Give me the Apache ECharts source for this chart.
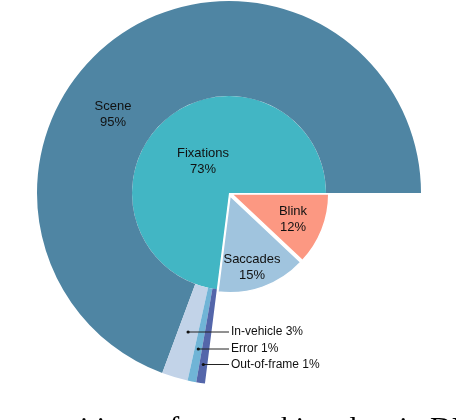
<!DOCTYPE html>
<html>
<head>
<meta charset="utf-8">
<script src="https://cdn.jsdelivr.net/npm/echarts@6/dist/echarts.min.js"></script>
<style>
html,body{margin:0;padding:0;background:#fff;}
#main{width:456px;height:420px;}
</style>
</head>
<body>
<div id="main"></div>
<script>
// inner pie: eye tracking event types (%)
var innerNames = ['Fixations', 'Saccades', 'Blink'];
var innerValues = [73, 15, 12];
var innerColors = ['#42b6c4', '#a0c4de', '#fc9882'];

// outer ring: where the fixations land (% of fixations)
var outerNames = ['Scene', 'In-vehicle', 'Error', 'Out-of-frame'];
var outerValues = [95, 3, 1, 1];
var outerColors = ['#4f85a3', '#c2d3e8', '#70b4d6', '#5466aa'];

var caption = 'Compositions of eye tracking data in DR(eye)VE.';

// layout
var cx = 229, cy = 193, rIn = 97, rOut = 192;
var innerLabelPos = [[203, 161], [252, 267], [293, 219]];
var sceneLabelPos = [113, 114];
var calloutY = [332, 349, 364.5];
var calloutX = 229;
var txtFont = '"Liberation Sans", Arial, sans-serif';

// outer ring only spans the fixations slice, the rest is a blank slice
var outerData = [];
for (var i = 0; i < outerNames.length; i++) {
  outerData.push({
    name: outerNames[i],
    value: outerValues[i] * innerValues[0] / 100,
    itemStyle: {color: outerColors[i]}
  });
}
outerData.push({
  name: '',
  value: innerValues[1] + innerValues[2],
  itemStyle: {color: 'rgba(0,0,0,0)'},
  label: {show: false},
  labelLine: {show: false},
  emphasis: {disabled: true}
});

var innerData = [];
var innerLabelData = [];
for (var i = 0; i < innerNames.length; i++) {
  var d = {name: innerNames[i], value: innerValues[i], itemStyle: {color: innerColors[i]}};
  if (i > 0) {
    d.selected = true;
    d.itemStyle.borderColor = '#fff';
    d.itemStyle.borderWidth = 1.5;
  }
  innerData.push(d);
  innerLabelData.push({name: innerNames[i], value: innerValues[i]});
}

// callout leader lines: dot on the slice's middle ray, line to the text
var graphics = [];
var total = 0;
for (var i = 0; i < outerData.length; i++) total += outerData[i].value;
var acc = 0;
for (var i = 0; i < outerNames.length; i++) {
  var v = outerData[i].value;
  var mid = (acc + v / 2) / total * 2 * Math.PI;
  acc += v;
  if (i === 0) continue;
  var yT = calloutY[i - 1];
  var r = (yT - cy) / (-Math.sin(mid));
  var xD = cx + r * Math.cos(mid);
  graphics.push({type: 'line', z: 100, shape: {x1: xD, y1: yT, x2: calloutX, y2: yT}, style: {stroke: '#222', lineWidth: 1}});
  graphics.push({type: 'circle', z: 101, shape: {cx: xD, cy: yT, r: 1.6}, style: {fill: '#111'}});
}

// caption cut off at the bottom of the picture
var capFont = '30px "Liberation Serif", "Times New Roman", serif';
var ctx = document.createElement('canvas').getContext('2d');
ctx.font = capFont;
var capX = 430 - ctx.measureText('Compositions of eye tracking data in ').width;
graphics.push({type: 'text', x: capX, y: 429, z: 100, style: {text: caption, font: capFont, fill: '#000', align: 'left', verticalAlign: 'middle'}});

var myChart = echarts.init(document.getElementById('main'));
var option = {
  animation: false,
  graphic: graphics,
  series: [
    {
      name: 'events',
      type: 'pie',
      center: [cx, cy],
      radius: [0, rIn],
      startAngle: 0,
      clockwise: false,
      selectedMode: 'multiple',
      selectedOffset: 3,
      emphasis: {disabled: true},
      label: {show: false},
      labelLine: {show: false},
      data: innerData
    },
    {
      name: 'fixations',
      type: 'pie',
      center: [cx, cy],
      radius: [rIn, rOut],
      startAngle: 0,
      clockwise: false,
      avoidLabelOverlap: false,
      emphasis: {disabled: true},
      label: {
        show: true,
        position: 'inside',
        fontFamily: txtFont,
        fontSize: 13,
        lineHeight: 16,
        color: '#111',
        formatter: function (p) {
          if (p.dataIndex === 0) return outerNames[0] + '\n' + outerValues[0] + '%';
          return outerNames[p.dataIndex] + ' ' + outerValues[p.dataIndex] + '%';
        }
      },
      labelLine: {show: false},
      labelLayout: function (p) {
        if (p.dataIndex === 0) {
          return {x: sceneLabelPos[0], y: sceneLabelPos[1], align: 'center', verticalAlign: 'middle'};
        }
        if (p.dataIndex < outerNames.length) {
          return {x: calloutX + 2, y: calloutY[p.dataIndex - 1], align: 'left', verticalAlign: 'middle', fontSize: 12};
        }
      },
      data: outerData
    },
    {
      // label-only copy of the inner pie (selected slices keep their own label spot)
      name: 'eventLabels',
      type: 'pie',
      silent: true,
      z: 5,
      center: [cx, cy],
      radius: [0, rIn],
      startAngle: 0,
      clockwise: false,
      avoidLabelOverlap: false,
      emphasis: {disabled: true},
      itemStyle: {color: 'rgba(0,0,0,0)', borderWidth: 0},
      label: {
        show: true,
        position: 'inside',
        fontFamily: txtFont,
        fontSize: 13,
        lineHeight: 16,
        color: '#111',
        formatter: function (p) { return innerNames[p.dataIndex] + '\n' + innerValues[p.dataIndex] + '%'; }
      },
      labelLine: {show: false},
      labelLayout: function (p) {
        var pos = innerLabelPos[p.dataIndex];
        return {x: pos[0], y: pos[1], align: 'center', verticalAlign: 'middle'};
      },
      data: innerLabelData
    }
  ]
};
myChart.setOption(option);
</script>
</body>
</html>
